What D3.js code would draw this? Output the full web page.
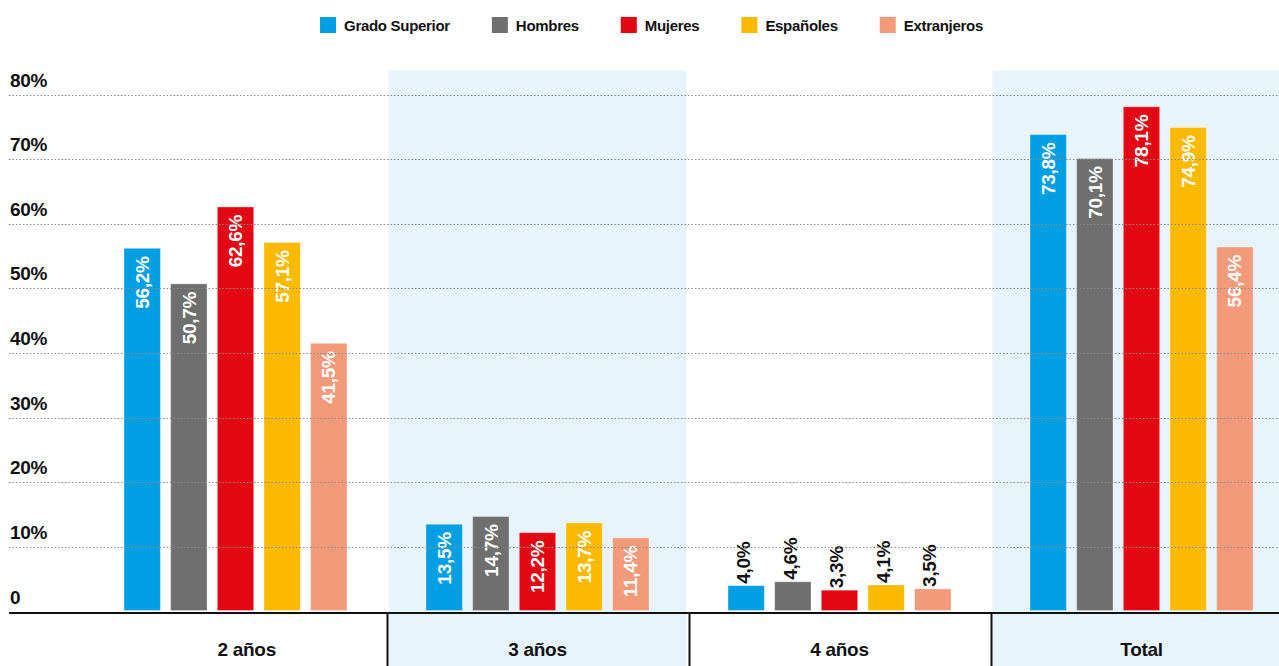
<!DOCTYPE html>
<html>
<head>
<meta charset="utf-8">
<script src="https://cdn.jsdelivr.net/npm/d3@7"></script>
<style>
  html, body { margin: 0; padding: 0; background: #fff; }
  svg { display: block; }
  text { font-family: "Liberation Sans", Arial, Helvetica, sans-serif; font-weight: bold; }
</style>
</head>
<body>
<svg id="chart" width="1279" height="666"></svg>
<script>
// ---------- data ----------
const categories = ["2 años", "3 años", "4 años", "Total"];
const series = ["Grado Superior", "Hombres", "Mujeres", "Españoles", "Extranjeros"];
const gradoSuperior = [56.2, 13.5, 4.0, 73.8];
const hombres       = [50.7, 14.7, 4.6, 70.1];
const mujeres       = [62.6, 12.2, 3.3, 78.1];
const espanoles     = [57.1, 13.7, 4.1, 74.9];
const extranjeros   = [41.5, 11.4, 3.5, 56.4];
const yTicks = [0, 10, 20, 30, 40, 50, 60, 70, 80];
const shadedCategories = ["3 años", "Total"];

// ---------- style ----------
const colors = ["#009FE3", "#6F6F6F", "#E30613", "#FBBA00", "#F39A7B"];
const bandColor = "#E8F4FC";

const seriesValues = [gradoSuperior, hombres, mujeres, espanoles, extranjeros];
const rows = [];
categories.forEach((c, ci) => {
  series.forEach((s, si) => rows.push({ cat: c, ser: s, value: seriesValues[si][ci] }));
});

const W = 1279, H = 666;
const svg = d3.select("#chart");

const x = d3.scaleBand().domain(categories).range([84.5, 1292.5]).padding(0);
const xs = d3.scaleBand().domain(series).range([-111.5, 111.5]).paddingInner(0.22).paddingOuter(0);
const y = d3.scaleLinear().domain([0, 80]).range([611.5, 94.5]);
const color = d3.scaleOrdinal().domain(series).range(colors);

const axisLeft = 9;
const bandTop = 70.5;
const firstLabelLeft = 107;

// shaded bands
svg.append("g").selectAll("rect")
  .data(shadedCategories)
  .join("rect")
  .attr("x", d => x(d) + 2)
  .attr("y", bandTop)
  .attr("width", x.bandwidth() - 4)
  .attr("height", H - bandTop)
  .attr("fill", bandColor);

// bars
const groups = svg.append("g").selectAll("g")
  .data(categories)
  .join("g")
  .attr("transform", d => `translate(${x(d) + x.bandwidth() / 2},0)`);

groups.selectAll("rect")
  .data(c => rows.filter(r => r.cat === c))
  .join("rect")
  .attr("x", d => xs(d.ser))
  .attr("y", d => y(d.value))
  .attr("width", xs.bandwidth())
  .attr("height", d => y(0) - 1 - y(d.value))
  .attr("fill", d => color(d.ser))
  .attr("stroke", "rgba(255,255,255,0.35)")
  .attr("stroke-width", 1);

// gridlines (drawn over bars)
svg.append("g").selectAll("line")
  .data(yTicks.filter(t => t > 0))
  .join("line")
  .attr("x1", axisLeft)
  .attr("x2", W)
  .attr("y1", d => Math.round(y(d)) + 0.5)
  .attr("y2", d => Math.round(y(d)) + 0.5)
  .attr("stroke", "#8a8a8a")
  .attr("stroke-width", 1)
  .attr("stroke-dasharray", "1.5,2");

// y tick labels
svg.append("g").selectAll("text")
  .data(yTicks)
  .join("text")
  .attr("x", 10)
  .attr("y", d => y(d) - 8)
  .attr("font-size", 19)
  .attr("letter-spacing", "-0.3px")
  .attr("fill", "#111")
  .text(d => d === 0 ? "0" : d + "%");

// value labels
const fmt = v => v.toFixed(1).replace(".", ",") + "%";
groups.selectAll("text.val")
  .data(c => rows.filter(r => r.cat === c))
  .join("text")
  .attr("class", "val")
  .attr("font-size", 19)
  .attr("letter-spacing", "-0.3px")
  .text(d => fmt(d.value))
  .each(function (d) {
    const len = this.getComputedTextLength();
    const barH = y(0) - y(d.value);
    const cx = xs(d.ser) + xs.bandwidth() / 2;
    const inside = barH > len + 14;
    const sel = d3.select(this)
      .attr("dy", "0.35em")
      .attr("fill", inside ? "#fff" : "#111");
    if (inside) {
      sel.attr("text-anchor", "end")
        .attr("transform", `translate(${cx},${y(d.value) + 8}) rotate(-90)`);
    } else {
      sel.attr("text-anchor", "start")
        .attr("transform", `translate(${cx - 3},${y(d.value) - 2}) rotate(-90)`);
    }
  });

// x axis line
svg.append("line")
  .attr("x1", axisLeft).attr("x2", W)
  .attr("y1", 613).attr("y2", 613)
  .attr("stroke", "#111").attr("stroke-width", 2.2);

// category dividers
svg.append("g").selectAll("line")
  .data(categories.slice(1))
  .join("line")
  .attr("x1", d => x(d) + 1).attr("x2", d => x(d) + 1)
  .attr("y1", 613).attr("y2", H)
  .attr("stroke", "#111").attr("stroke-width", 2);

// category labels
svg.append("g").selectAll("text")
  .data(categories)
  .join("text")
  .attr("x", (d, i) => (Math.max(x(d), i === 0 ? firstLabelLeft : x(d)) + x(d) + x.bandwidth()) / 2)
  .attr("y", 656)
  .attr("text-anchor", "middle")
  .attr("font-size", 19)
  .attr("letter-spacing", "-0.3px")
  .attr("fill", "#111")
  .text(d => d);

// legend
const legend = svg.append("g");
const items = legend.selectAll("g")
  .data(series)
  .join("g");
items.append("rect")
  .attr("width", 16).attr("height", 16)
  .attr("y", 17)
  .attr("fill", d => color(d));
items.append("text")
  .attr("x", 24)
  .attr("y", 31)
  .attr("font-size", 15)
  .attr("letter-spacing", "-0.3px")
  .attr("fill", "#111")
  .text(d => d);
let cursor = 0;
const offsets = [];
items.each(function () {
  const tw = d3.select(this).select("text").node().getComputedTextLength();
  offsets.push(cursor);
  cursor += 24 + tw + 42;
});
const totalW = cursor - 42;
const startX = 651.5 - totalW / 2;
items.attr("transform", (d, i) => `translate(${startX + offsets[i]},0)`);
</script>
</body>
</html>
